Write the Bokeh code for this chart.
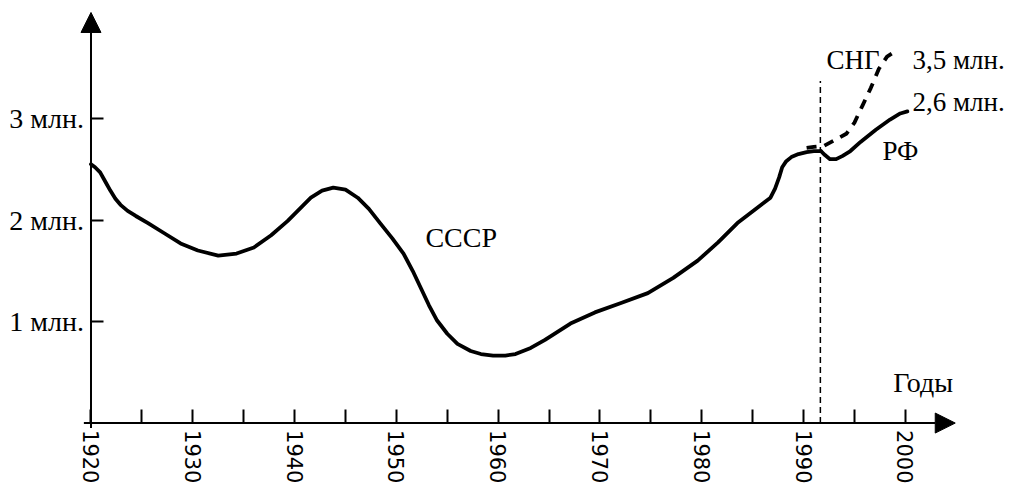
from bokeh.plotting import figure
from bokeh.models import Range1d, FixedTicker, Arrow, NormalHead, Label
from bokeh.embed import file_html
from bokeh.resources import INLINE

# ---- data ----
ussr_years = [1920.0, 1920.4, 1920.9, 1921.4, 1921.9, 1922.4, 1922.9, 1923.6, 1924.4,
              1925.6, 1927.2, 1928.8, 1930.5, 1932.5, 1934.3, 1936.0, 1937.7, 1939.3,
              1940.5, 1941.6, 1942.7, 1943.8, 1945.0, 1946.2, 1947.3, 1948.4, 1949.6,
              1950.7, 1951.6, 1952.4, 1953.2, 1954.0, 1955.0, 1956.0, 1957.3, 1958.3,
              1959.5, 1960.7, 1961.7, 1963.2, 1964.6, 1967.1, 1969.5, 1972.0, 1974.7,
              1977.2, 1979.6, 1981.6, 1983.5, 1985.3, 1986.75, 1987.2, 1987.6, 1987.9,
              1988.3, 1988.8, 1989.5, 1990.3, 1991.0, 1991.7]
ussr_values = [2.55, 2.52, 2.47, 2.38, 2.29, 2.21, 2.15, 2.09, 2.04,
               1.97, 1.87, 1.77, 1.70, 1.65, 1.67, 1.73, 1.85, 1.99,
               2.11, 2.22, 2.29, 2.32, 2.30, 2.22, 2.11, 1.97, 1.82,
               1.67, 1.50, 1.33, 1.16, 1.01, 0.88, 0.78, 0.71, 0.68,
               0.665, 0.665, 0.68, 0.74, 0.82, 0.98, 1.09, 1.18, 1.28,
               1.43, 1.60, 1.78, 1.97, 2.11, 2.22, 2.31, 2.42, 2.52,
               2.58, 2.62, 2.65, 2.67, 2.68, 2.68]

rf_years = [1991.7, 1992.1, 1992.6, 1993.2, 1993.8, 1994.6, 1995.6, 1997.1, 1998.5, 1999.5, 2000.2]
rf_values = [2.68, 2.64, 2.60, 2.60, 2.63, 2.68, 2.77, 2.89, 2.99, 3.05, 3.07]

cis_years = [1990.3, 1991.0, 1992.0, 1993.3, 1994.2, 1995.0, 1995.8, 1996.6, 1997.4, 1998.2, 1999.3]
cis_values = [2.71, 2.72, 2.73, 2.80, 2.85, 2.96, 3.13, 3.30, 3.49, 3.61, 3.68]

split_year = [1991.65, 1991.65]
split_values = [0.0, 3.37]

year_ticks = [1920, 1930, 1940, 1950, 1960, 1970, 1980, 1990, 2000]
year_minor_ticks = [1925, 1935, 1945, 1955, 1965, 1975, 1985, 1995]
value_ticks = [1, 2, 3]
value_tick_labels = ["1 млн.", "2 млн.", "3 млн."]

# ---- figure ----
SERIF = "Liberation Serif"
p = figure(width=1009, height=487, output_backend="svg", toolbar_location=None,
           x_range=Range1d(1911.11, 2010.23), y_range=Range1d(-0.635, 4.163),
           min_border_left=0, min_border_right=0, min_border_top=0, min_border_bottom=0)
p.background_fill_color = "white"
p.border_fill_color = "white"
p.outline_line_color = None
p.xgrid.visible = False
p.ygrid.visible = False

# x axis (fixed at value 0)
xa = p.xaxis[0]
xa.fixed_location = 0
xa.ticker = FixedTicker(ticks=year_ticks, minor_ticks=year_minor_ticks)
xa.axis_line_color = None
xa.major_tick_in = 14
xa.major_tick_out = 0
xa.minor_tick_in = 14
xa.minor_tick_out = 0
xa.major_tick_line_width = 2
xa.minor_tick_line_width = 2
xa.major_tick_line_color = "black"
xa.minor_tick_line_color = "black"
xa.major_label_orientation = "vertical"
xa.major_label_text_font = "DejaVu Sans"
xa.major_label_text_font_size = "21px"
xa.major_label_text_color = "black"
xa.major_label_standoff = 7

# y axis (fixed at 1920)
ya = p.yaxis[0]
ya.fixed_location = 1920
ya.ticker = FixedTicker(ticks=value_ticks, minor_ticks=[])
ya.major_label_overrides = {t: s for t, s in zip(value_ticks, value_tick_labels)}
ya.axis_line_color = None
ya.major_tick_in = 13
ya.major_tick_out = 0
ya.major_tick_line_width = 2
ya.major_tick_line_color = "black"
ya.major_label_text_font = SERIF
ya.major_label_text_font_size = "28px"
ya.major_label_text_color = "black"
ya.major_label_standoff = 7

# axis lines with arrow heads
p.add_layout(Arrow(end=NormalHead(size=20, fill_color="black", line_color="black"),
                   x_start=1919.3, y_start=0, x_end=2004.9, y_end=0,
                   line_width=2, line_color="black"))
p.add_layout(Arrow(end=NormalHead(size=20, fill_color="black", line_color="black"),
                   x_start=1920, y_start=-0.05, x_end=1920, y_end=4.045,
                   line_width=2, line_color="black"))

# split line
p.line(split_year, split_values, line_width=1.5, line_color="black", line_dash="6 4")

# series
p.line(ussr_years, ussr_values, line_width=3.8, line_color="black",
       line_join="round", line_cap="round")
p.line(rf_years, rf_values, line_width=3.8, line_color="black",
       line_join="round", line_cap="round")
p.line(cis_years, cis_values, line_width=3.8, line_color="black",
       line_dash="10 8", line_join="round")

# labels
def lab(x, y, t, size="28px"):
    p.add_layout(Label(x=x, y=y, text=t, text_font=SERIF, text_font_size=size,
                       text_color="black", text_align="left", text_baseline="alphabetic"))

lab(1952.85, 1.83, "СССР")
lab(1992.25, 3.58, "СНГ", "27px")
lab(2000.7, 3.58, "3,5 млн.", "27px")
lab(2000.7, 3.16, "2,6 млн.", "27px")
lab(1997.75, 2.68, "РФ", "27px")
lab(1998.8, 0.40, "Годы")

open("out.html", "w").write(file_html(p, INLINE))
